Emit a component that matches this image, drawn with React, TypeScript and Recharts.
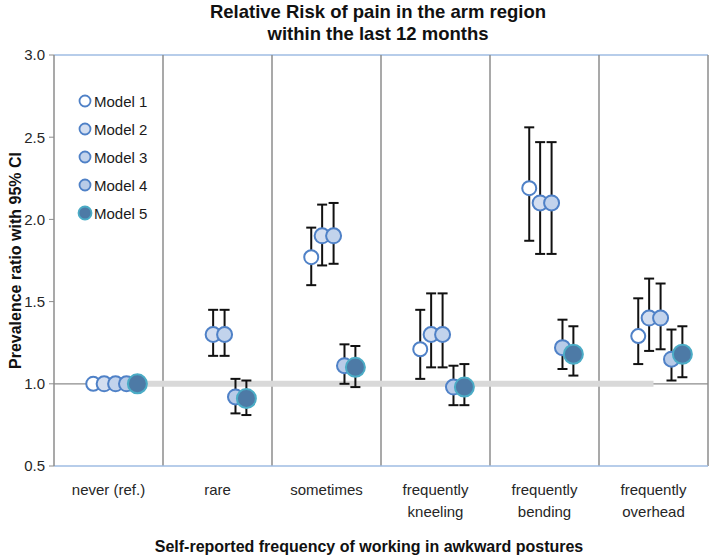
import React from "react";
import {
  ComposedChart,
  Scatter,
  XAxis,
  YAxis,
  ErrorBar,
  ReferenceLine,
} from "recharts";

// ---- data ----
const categories = [
  "never (ref.)",
  "rare",
  "sometimes",
  "frequently\nkneeling",
  "frequently\nbending",
  "frequently\noverhead",
];
const modelNames = ["Model 1", "Model 2", "Model 3", "Model 4", "Model 5"];

const m1 = [1.0, null, 1.77, 1.21, 2.19, 1.29];
const m1Low = [1.0, null, 1.6, 1.03, 1.87, 1.12];
const m1High = [1.0, null, 1.95, 1.45, 2.56, 1.52];

const m2 = [1.0, 1.3, 1.9, 1.3, 2.1, 1.4];
const m2Low = [1.0, 1.17, 1.72, 1.1, 1.79, 1.2];
const m2High = [1.0, 1.45, 2.09, 1.55, 2.47, 1.64];

const m3 = [1.0, 1.3, 1.9, 1.3, 2.1, 1.4];
const m3Low = [1.0, 1.17, 1.73, 1.1, 1.79, 1.21];
const m3High = [1.0, 1.45, 2.1, 1.55, 2.47, 1.61];

const m4 = [1.0, 0.92, 1.11, 0.98, 1.22, 1.15];
const m4Low = [1.0, 0.82, 1.0, 0.87, 1.09, 1.02];
const m4High = [1.0, 1.03, 1.24, 1.11, 1.39, 1.33];

const m5 = [1.0, 0.91, 1.1, 0.98, 1.18, 1.18];
const m5Low = [1.0, 0.81, 0.98, 0.87, 1.05, 1.04];
const m5High = [1.0, 1.02, 1.23, 1.12, 1.35, 1.35];

const yTicks = [0.5, 1.0, 1.5, 2.0, 2.5, 3.0];
const referenceValue = 1.0;

// ---- styling / layout (not data) ----
const offsets = [-0.14, -0.04, 0.065, 0.165, 0.265];
const styles = [
  { fill: "#ffffff", stroke: "#4f81c7", r: 7 },
  { fill: "#d3def0", stroke: "#4f81c7", r: 7.5 },
  { fill: "#c2d3ec", stroke: "#4f81c7", r: 7.5 },
  { fill: "#b8cbe8", stroke: "#4f81c7", r: 7.5 },
  { fill: "#4d7aa6", stroke: "#4bacc6", r: 9.5 },
];

const series = [
  [m1, m1Low, m1High],
  [m2, m2Low, m2High],
  [m3, m3Low, m3High],
  [m4, m4Low, m4High],
  [m5, m5Low, m5High],
].map(([vals, lows, highs], si) =>
  (vals as (number | null)[])
    .map((v, ci) =>
      v == null
        ? null
        : {
            x: ci + 0.5 + offsets[si],
            y: v,
            err:
              ci === 0
                ? null
                : [v - (lows[ci] as number), (highs[ci] as number) - v],
          }
    )
    .filter((d) => d != null)
);

const font = "'Liberation Sans', Arial, sans-serif";

const XTick = (props: any) => {
  const { x, y, payload } = props;
  const idx = Math.round(payload.value - 0.5);
  const lines = (categories[idx] || "").split("\n");
  return (
    <text
      x={x}
      y={y}
      textAnchor="middle"
      fill="#262626"
      fontSize={15}
      fontFamily={font}
    >
      {lines.map((l, i) => (
        <tspan key={i} x={x} dy={i === 0 ? 29 : 22}>
          {l}
        </tspan>
      ))}
    </text>
  );
};

const makeShape = (si: number) => (props: any) => {
  const { cx, cy } = props;
  const s = styles[si];
  return (
    <circle
      cx={cx}
      cy={cy}
      r={s.r}
      fill={s.fill}
      stroke={s.stroke}
      strokeWidth={2}
    />
  );
};

const LegendBox = () => (
  <div
    style={{
      position: "absolute",
      left: 77,
      top: 87,
      fontFamily: font,
      fontSize: 15,
      color: "#1a1a1a",
      zIndex: 2,
    }}
  >
    {modelNames.map((n, i) => (
      <div
        key={n}
        style={{ display: "flex", alignItems: "center", height: 28 }}
      >
        <svg width={16} height={20} style={{ marginRight: 1 }}>
          <circle
            cx={8}
            cy={10}
            r={i === 4 ? 6.5 : 5.5}
            fill={styles[i].fill}
            stroke={styles[i].stroke}
            strokeWidth={1.8}
          />
        </svg>
        <span>{n}</span>
      </div>
    ))}
  </div>
);

export default function App() {
  return (
    <div
      style={{
        position: "absolute",
        left: 0,
        top: 0,
        width: 709,
        height: 555,
        background: "#fff",
      }}
    >
      <div
        style={{
          position: "absolute",
          left: 0,
          top: 1,
          width: 756,
          textAlign: "center",
          fontFamily: font,
          fontWeight: "bold",
          fontSize: 18.5,
          lineHeight: "22px",
          color: "#111",
          zIndex: 2,
        }}
      >
        Relative Risk of pain in the arm region
        <br />
        within the last 12 months
      </div>
      <LegendBox />
      <ComposedChart
        width={709}
        height={555}
        margin={{ top: 55, right: 1, left: 0, bottom: 0 }}
      >
        <XAxis
          type="number"
          dataKey="x"
          domain={[0, 6]}
          ticks={[0.5, 1.5, 2.5, 3.5, 4.5, 5.5]}
          allowDataOverflow
          tick={<XTick />}
          tickLine={false}
          tickSize={0}
          tickMargin={0}
          height={89}
          axisLine={{ stroke: "#9fbde3", strokeWidth: 1.5 }}
          interval={0}
          label={{
            value: "Self-reported frequency of working in awkward postures",
            position: "insideBottom",
            offset: 3,
            dx: -12,
            style: {
              fontFamily: font,
              fontWeight: "bold",
              fontSize: 16,
              fill: "#111",
            },
          }}
        />
        <YAxis
          type="number"
          dataKey="y"
          domain={[0.5, 3]}
          ticks={yTicks}
          width={54}
          tickSize={5}
          tickMargin={4}
          tickFormatter={(v: number) => v.toFixed(1)}
          tick={{ fontFamily: font, fontSize: 15, fill: "#262626" }}
          axisLine={{ stroke: "#8c8c8c", strokeWidth: 1.5 }}
          tickLine={{ stroke: "#8c8c8c" }}
          label={{
            value: "Prevalence ratio with 95% CI",
            angle: -90,
            position: "center",
            dx: -12,
            style: {
              fontFamily: font,
              fontWeight: "bold",
              fontSize: 16,
              fill: "#111",
              textAnchor: "middle",
            },
          }}
        />
        <ReferenceLine y={3} stroke="#9fbde3" strokeWidth={1.5} />
        {[1, 2, 3, 4, 5, 6].map((x) => (
          <ReferenceLine key={x} x={x} stroke="#8c8c8c" strokeWidth={1.5} />
        ))}
        <ReferenceLine y={referenceValue} stroke="#8c8c8c" strokeWidth={1.2} />
        <ReferenceLine
          segment={[
            { x: 0.5, y: referenceValue },
            { x: 5.5, y: referenceValue },
          ]}
          stroke="#d9d9d9"
          strokeWidth={6}
        />
        {series.map((d, si) => (
          <Scatter
            key={si}
            name={modelNames[si]}
            data={d as any[]}
            dataKey="y"
            fill={styles[si].fill}
            shape={makeShape(si)}
            isAnimationActive={false}
          >
            <ErrorBar
              dataKey="err"
              direction="y"
              width={5}
              stroke="#111"
              strokeWidth={2}
            />
          </Scatter>
        ))}
      </ComposedChart>
    </div>
  );
}
